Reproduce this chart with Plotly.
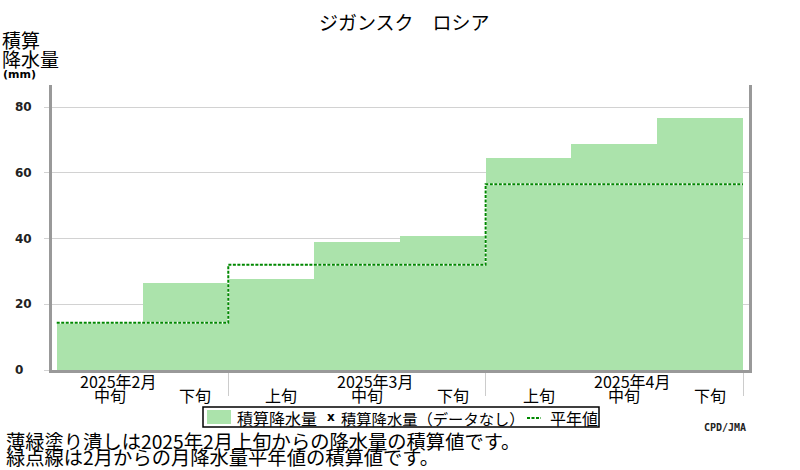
import plotly.graph_objects as go

# ---- data ----
dekads = ["中旬", "下旬", "上旬", "中旬", "下旬", "上旬", "中旬", "下旬"]
month_labels = {0: "2025年2月", 3: "2025年3月", 6: "2025年4月"}
precip_cum = [14.2, 26.5, 27.7, 38.9, 40.7, 64.6, 68.6, 76.8]
normal_cum = [14.4, 14.4, 32.0, 32.0, 32.0, 56.5, 56.5, 56.5]
month_bounds = [1.5, 4.5, 7.5]
y_ticks = [0, 20, 40, 60, 80]

title_text = "ジガンスク　ロシア"
note1 = "薄緑塗り潰しは2025年2月上旬からの降水量の積算値です。"
note2 = "緑点線は2月からの月降水量平年値の積算値です。"

BAR = "#ABE3AB"
GREEN = "#008800"
JP = "Noto Sans CJK JP"

# ---- layout geometry (pixels) ----
W, H = 800, 470
PL, PR, PT, PB = 52, 749, 85, 370


def fx(px):
    return (px - PL) / (PR - PL)


def fy(py):
    return (PB - py) / (PB - PT)


xs = list(range(len(precip_cum)))
edges = [x - 0.5 for x in xs] + [xs[-1] + 0.5]
normal_step = normal_cum + [normal_cum[-1]]

fig = go.Figure()
fig.add_trace(go.Bar(x=xs, y=precip_cum, width=1.0, marker=dict(color=BAR, line=dict(width=0)),
                     showlegend=False, hoverinfo="skip"))
fig.add_trace(go.Scatter(x=edges, y=normal_step, mode="lines", line_shape="hv",
                         line=dict(color="white", width=2), showlegend=False, hoverinfo="skip"))
fig.add_trace(go.Scatter(x=edges, y=normal_step, mode="lines", line_shape="hv",
                         line=dict(color=GREEN, width=2, dash="3px,1.5px"), showlegend=False,
                         hoverinfo="skip"))

ann = []
# title
ann.append(dict(text=title_text, xref="paper", yref="paper", x=fx(404), y=fy(22),
                xanchor="center", yanchor="middle", showarrow=False,
                font=dict(family=JP, size=19, color="#000")))
# y-axis title
ann.append(dict(text="積算", xref="paper", yref="paper", x=fx(0), y=fy(40),
                xanchor="left", yanchor="middle", showarrow=False,
                font=dict(family=JP, size=19, color="#000")))
ann.append(dict(text="降水量", xref="paper", yref="paper", x=fx(0), y=fy(59),
                xanchor="left", yanchor="middle", showarrow=False,
                font=dict(family=JP, size=19, color="#000")))
ann.append(dict(text="<b>(mm)</b>", xref="paper", yref="paper", x=fx(1), y=fy(75),
                xanchor="left", yanchor="middle", showarrow=False,
                font=dict(family="DejaVu Sans", size=11, color="#000")))
# y tick labels (left aligned)
for v in y_ticks:
    ann.append(dict(text="<b>%d</b>" % v, xref="paper", yref="y", x=fx(13), y=v,
                    xanchor="left", yanchor="middle", showarrow=False,
                    font=dict(family="DejaVu Sans", size=12, color="#222")))
# x labels
for i, m in month_labels.items():
    ann.append(dict(text=m, xref="x", yref="paper", x=i, y=fy(381), xshift=18,
                    xanchor="center", yanchor="middle", showarrow=False,
                    font=dict(family=JP, size=16, color="#000")))
for i, d in enumerate(dekads):
    ann.append(dict(text=d, xref="x", yref="paper", x=i, y=fy(395), xshift=10,
                    xanchor="center", yanchor="middle", showarrow=False,
                    font=dict(family=JP, size=16, color="#000")))
# legend (drawn)
ann.append(dict(text="積算降水量", xref="paper", yref="paper", x=fx(235), y=fy(418),
                xanchor="left", yanchor="middle", showarrow=False,
                font=dict(family=JP, size=16, color="#000")))
ann.append(dict(text="<b>x</b>", xref="paper", yref="paper", x=fx(325), y=fy(417),
                xanchor="left", yanchor="middle", showarrow=False,
                font=dict(family="DejaVu Sans", size=12, color="#000")))
ann.append(dict(text="積算降水量（データなし）", xref="paper", yref="paper", x=fx(339), y=fy(418),
                xanchor="left", yanchor="middle", showarrow=False,
                font=dict(family=JP, size=15.3, color="#000")))
ann.append(dict(text="平年値", xref="paper", yref="paper", x=fx(548), y=fy(418),
                xanchor="left", yanchor="middle", showarrow=False,
                font=dict(family=JP, size=16, color="#000")))
# notes
ann.append(dict(text=note1, xref="paper", yref="paper", x=fx(4), y=fy(440.5),
                xanchor="left", yanchor="middle", showarrow=False,
                font=dict(family=JP, size=19.3, color="#000")))
ann.append(dict(text=note2, xref="paper", yref="paper", x=fx(4), y=fy(457),
                xanchor="left", yanchor="middle", showarrow=False,
                font=dict(family=JP, size=19.3, color="#000")))
ann.append(dict(text="<b>CPD/JMA</b>", xref="paper", yref="paper", x=fx(748), y=fy(427),
                xanchor="right", yanchor="middle", showarrow=False,
                font=dict(family="DejaVu Sans Mono", size=10, color="#222")))

shapes = [
    dict(type="rect", xref="paper", yref="paper", x0=fx(203), x1=fx(599), y0=fy(427), y1=fy(407),
         line=dict(color="#000", width=1.5), fillcolor="rgba(0,0,0,0)"),
    dict(type="rect", xref="paper", yref="paper", x0=fx(207), x1=fx(231), y0=fy(424), y1=fy(410),
         line=dict(width=0), fillcolor=BAR),
    dict(type="line", xref="paper", yref="paper", x0=fx(527), x1=fx(541), y0=fy(418), y1=fy(418),
         line=dict(color=GREEN, width=2, dash="3px,1.5px")),
]

fig.update_layout(
    width=W, height=H,
    margin=dict(l=PL, r=W - PR, t=PT, b=H - PB, pad=0),
    paper_bgcolor="white", plot_bgcolor="white",
    showlegend=False, bargap=0,
    annotations=ann, shapes=shapes,
    xaxis=dict(range=[-0.555, 7.57], showgrid=False, zeroline=False,
               showline=True, linecolor="#999999", linewidth=3, mirror=False,
               tickmode="array", tickvals=month_bounds, ticks="outside", ticklen=23,
               tickcolor="#cccccc", tickwidth=1, showticklabels=False, fixedrange=True),
    yaxis=dict(range=[0, (PB - PT) / 3.2875], showgrid=True, gridcolor="#d2d2d2", gridwidth=1,
               zeroline=False, showline=True, linecolor="#999999", linewidth=3, mirror=True,
               tickmode="array", tickvals=y_ticks, ticks="outside", ticklen=5,
               tickcolor="#d2d2d2", showticklabels=False, fixedrange=True),
)

fig.write_html(
    "out.html",
    config={"displayModeBar": False},
    post_script="document.body.style.margin='0';document.body.style.overflow='hidden';",
)
